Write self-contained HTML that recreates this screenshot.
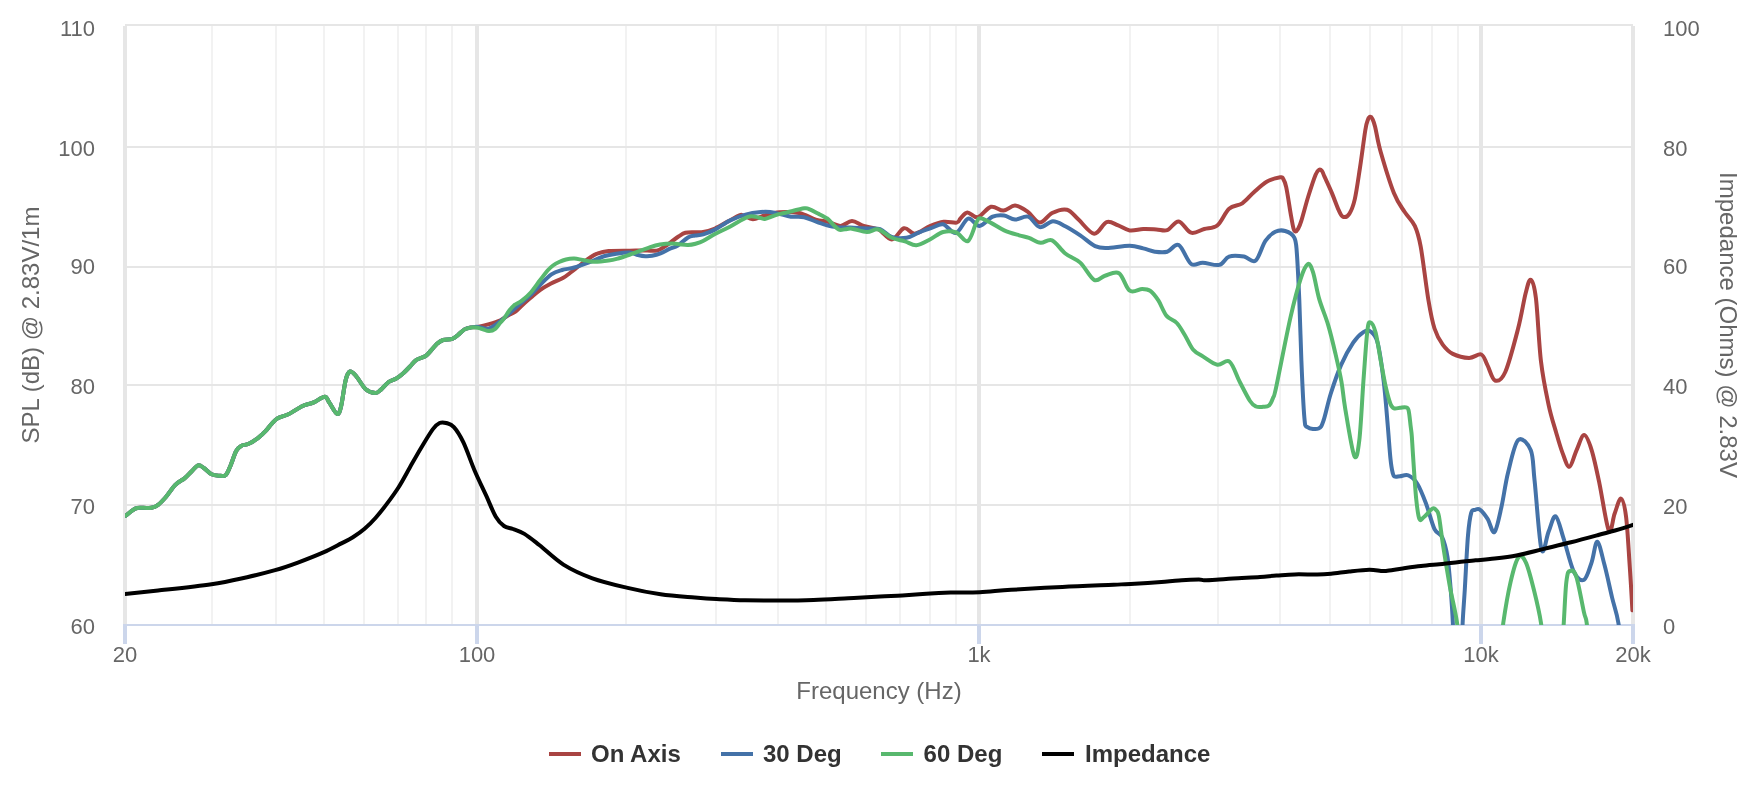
<!DOCTYPE html><html><head><meta charset="utf-8"><style>html,body{margin:0;padding:0;background:#fff;}svg{display:block;}svg{will-change:transform;}text{font-family:"Liberation Sans",sans-serif;}</style></head><body>
<svg width="1758" height="787" viewBox="0 0 1758 787">
<rect x="0" y="0" width="1758" height="787" fill="#fff"/>
<rect x="211" y="25" width="2" height="600" fill="#f2f2f2"/>
<rect x="275" y="25" width="2" height="600" fill="#f2f2f2"/>
<rect x="323" y="25" width="2" height="600" fill="#f2f2f2"/>
<rect x="363" y="25" width="2" height="600" fill="#f2f2f2"/>
<rect x="397" y="25" width="2" height="600" fill="#f2f2f2"/>
<rect x="425" y="25" width="2" height="600" fill="#f2f2f2"/>
<rect x="451" y="25" width="2" height="600" fill="#f2f2f2"/>
<rect x="625" y="25" width="2" height="600" fill="#f2f2f2"/>
<rect x="715" y="25" width="2" height="600" fill="#f2f2f2"/>
<rect x="777" y="25" width="2" height="600" fill="#f2f2f2"/>
<rect x="825" y="25" width="2" height="600" fill="#f2f2f2"/>
<rect x="865" y="25" width="2" height="600" fill="#f2f2f2"/>
<rect x="899" y="25" width="2" height="600" fill="#f2f2f2"/>
<rect x="929" y="25" width="2" height="600" fill="#f2f2f2"/>
<rect x="955" y="25" width="2" height="600" fill="#f2f2f2"/>
<rect x="1129" y="25" width="2" height="600" fill="#f2f2f2"/>
<rect x="1217" y="25" width="2" height="600" fill="#f2f2f2"/>
<rect x="1279" y="25" width="2" height="600" fill="#f2f2f2"/>
<rect x="1329" y="25" width="2" height="600" fill="#f2f2f2"/>
<rect x="1369" y="25" width="2" height="600" fill="#f2f2f2"/>
<rect x="1401" y="25" width="2" height="600" fill="#f2f2f2"/>
<rect x="1431" y="25" width="2" height="600" fill="#f2f2f2"/>
<rect x="1457" y="25" width="2" height="600" fill="#f2f2f2"/>
<rect x="125" y="24" width="1508" height="2" fill="#e6e6e6"/>
<rect x="125" y="146" width="1508" height="2" fill="#e6e6e6"/>
<rect x="125" y="266" width="1508" height="2" fill="#e6e6e6"/>
<rect x="125" y="384" width="1508" height="2" fill="#e6e6e6"/>
<rect x="125" y="504" width="1508" height="2" fill="#e6e6e6"/>
<rect x="123" y="26" width="4" height="598" fill="#e6e6e6"/>
<rect x="475" y="26" width="4" height="598" fill="#e6e6e6"/>
<rect x="977" y="26" width="4" height="598" fill="#e6e6e6"/>
<rect x="1479" y="26" width="4" height="598" fill="#e6e6e6"/>
<rect x="1631" y="26" width="4" height="598" fill="#e6e6e6"/>
<rect x="125" y="624" width="1508" height="2" fill="#ccd6eb"/>
<rect x="123" y="624" width="4" height="20" fill="#ccd6eb"/>
<rect x="475" y="624" width="4" height="20" fill="#ccd6eb"/>
<rect x="977" y="624" width="4" height="20" fill="#ccd6eb"/>
<rect x="1479" y="624" width="4" height="20" fill="#ccd6eb"/>
<rect x="1631" y="624" width="4" height="20" fill="#ccd6eb"/>
<text x="125" y="662" font-size="22" fill="#666" text-anchor="middle">20</text>
<text x="477" y="662" font-size="22" fill="#666" text-anchor="middle">100</text>
<text x="979" y="662" font-size="22" fill="#666" text-anchor="middle">1k</text>
<text x="1481" y="662" font-size="22" fill="#666" text-anchor="middle">10k</text>
<text x="1633" y="662" font-size="22" fill="#666" text-anchor="middle">20k</text>
<text x="95" y="36.0" font-size="22" fill="#666" text-anchor="end">110</text>
<text x="95" y="156.0" font-size="22" fill="#666" text-anchor="end">100</text>
<text x="95" y="274.0" font-size="22" fill="#666" text-anchor="end">90</text>
<text x="95" y="394.0" font-size="22" fill="#666" text-anchor="end">80</text>
<text x="95" y="514.0" font-size="22" fill="#666" text-anchor="end">70</text>
<text x="95" y="634.0" font-size="22" fill="#666" text-anchor="end">60</text>
<text x="1663" y="36.0" font-size="22" fill="#666" text-anchor="start">100</text>
<text x="1663" y="156.0" font-size="22" fill="#666" text-anchor="start">80</text>
<text x="1663" y="274.0" font-size="22" fill="#666" text-anchor="start">60</text>
<text x="1663" y="394.0" font-size="22" fill="#666" text-anchor="start">40</text>
<text x="1663" y="514.0" font-size="22" fill="#666" text-anchor="start">20</text>
<text x="1663" y="634.0" font-size="22" fill="#666" text-anchor="start">0</text>
<text x="879" y="699" font-size="24" fill="#666" text-anchor="middle">Frequency (Hz)</text>
<text transform="translate(38.5 325) rotate(-90)" font-size="24" fill="#666" text-anchor="middle">SPL (dB) @ 2.83V/1m</text>
<text transform="translate(1720 325) rotate(90)" font-size="24" fill="#666" text-anchor="middle">Impedance (Ohms) @ 2.83V</text>
<defs><clipPath id="pc"><rect x="125" y="25" width="1508" height="600"/></clipPath></defs>
<g clip-path="url(#pc)" fill="none" stroke-width="4" stroke-linejoin="round" stroke-linecap="round">
<path d="M125.7,515.7 C127.3,514.5 132.3,509.9 135.2,508.6 C138.1,507.3 140.2,507.9 142.9,507.8 C145.6,507.7 148.9,508.3 151.4,507.8 C153.9,507.3 155.7,506.6 158.1,504.8 C160.5,503.0 162.8,500.5 165.7,497.2 C168.6,493.9 172.1,488.0 175.3,484.8 C178.5,481.6 182.1,480.3 184.8,478.1 C187.5,475.9 189.3,473.6 191.5,471.5 C193.7,469.4 196.0,466.0 198.1,465.4 C200.2,464.8 201.6,466.5 203.8,468.0 C206.0,469.5 208.9,473.0 211.5,474.3 C214.1,475.6 216.7,475.6 219.1,475.7 C221.5,475.8 223.9,476.6 225.8,474.9 C227.7,473.2 228.8,469.7 230.5,465.7 C232.2,461.7 234.4,454.3 236.2,451.0 C238.0,447.7 239.0,447.1 241.1,445.9 C243.2,444.7 245.9,445.1 248.7,443.8 C251.5,442.5 255.1,440.2 257.9,438.1 C260.7,436.0 263.2,433.6 265.5,431.2 C267.8,428.8 269.6,425.9 271.6,423.8 C273.6,421.7 274.9,419.9 277.7,418.3 C280.5,416.7 284.3,416.3 288.4,414.3 C292.5,412.3 298.5,408.0 302.1,406.2 C305.7,404.4 307.8,404.4 309.8,403.7 C311.8,403.0 311.8,403.3 314.3,402.2 C316.8,401.1 322.3,396.7 324.8,396.8 C327.3,396.9 327.4,400.0 329.5,402.9 C331.6,405.8 335.2,413.3 337.1,413.9 C339.0,414.5 339.6,412.3 341.0,406.7 C342.4,401.1 344.2,385.9 345.7,380.0 C347.2,374.1 348.4,372.1 350.1,371.5 C351.9,370.9 353.6,373.2 356.2,376.2 C358.8,379.1 362.5,386.4 365.7,389.2 C368.9,392.0 372.8,392.9 375.3,393.0 C377.9,393.1 378.8,391.4 381.0,389.6 C383.2,387.8 386.1,383.9 388.6,382.0 C391.2,380.1 394.0,379.8 396.3,378.5 C398.6,377.2 400.1,376.0 402.4,374.0 C404.7,372.0 407.7,368.9 410.0,366.5 C412.3,364.1 413.8,361.6 416.4,359.8 C419.0,358.1 423.2,357.6 425.6,356.0 C428.0,354.4 429.1,352.5 431.0,350.5 C432.9,348.5 435.0,345.6 437.0,343.8 C439.0,342.1 440.6,340.8 443.1,340.0 C445.7,339.2 449.8,339.6 452.3,338.8 C454.8,338.0 456.0,336.6 458.0,335.0 C460.0,333.4 462.3,330.7 464.5,329.4 C466.7,328.1 469.2,327.8 471.4,327.4 C473.6,327.0 474.7,327.4 477.6,326.9 C480.6,326.3 485.3,325.2 489.1,324.1 C492.9,323.0 497.4,321.6 500.5,320.2 C503.6,318.8 505.4,317.0 508.0,315.5 C510.6,314.0 513.3,313.1 515.8,311.3 C518.3,309.5 520.5,306.8 523.0,304.5 C525.5,302.2 528.2,299.9 531.0,297.5 C533.8,295.1 536.7,292.3 540.0,290.0 C543.3,287.7 547.2,285.5 551.0,283.5 C554.8,281.5 559.4,280.1 562.9,278.1 C566.4,276.1 568.8,273.9 572.0,271.5 C575.2,269.1 579.1,265.9 582.0,263.6 C584.9,261.4 587.0,259.6 589.5,258.0 C592.0,256.4 594.0,254.8 597.2,253.7 C600.4,252.5 603.1,251.6 608.6,251.1 C614.1,250.6 624.4,250.8 630.0,250.7 C635.6,250.6 637.5,250.4 642.0,250.4 C646.5,250.4 653.0,251.2 656.7,250.6 C660.4,250.0 661.6,248.4 664.0,247.0 C666.4,245.6 668.8,243.7 671.2,241.9 C673.6,240.2 676.1,238.0 678.5,236.5 C680.9,235.0 682.8,233.5 685.4,232.8 C688.0,232.1 691.0,232.3 694.0,232.2 C697.0,232.1 699.7,232.6 703.2,232.0 C706.7,231.4 710.9,230.2 715.0,228.5 C719.1,226.8 723.6,223.8 727.7,221.6 C731.8,219.4 736.8,216.3 739.4,215.3 C742.0,214.3 741.2,214.8 743.5,215.5 C745.8,216.2 749.4,219.2 752.9,219.2 C756.4,219.2 760.1,216.7 764.5,215.5 C768.9,214.3 773.6,212.6 779.4,212.2 C785.2,211.8 793.2,211.8 799.2,213.0 C805.2,214.2 810.8,218.1 815.7,219.6 C820.7,221.1 824.8,221.0 828.9,222.1 C833.0,223.2 836.6,226.1 840.5,225.9 C844.4,225.7 848.1,221.0 852.0,221.0 C855.9,221.0 859.2,224.5 863.6,225.9 C868.0,227.3 873.8,227.2 878.5,229.5 C883.2,231.8 887.5,239.7 891.7,239.5 C896.0,239.3 900.1,229.2 904.0,228.2 C907.9,227.2 910.5,234.0 914.8,233.7 C919.1,233.4 925.1,228.2 929.9,226.2 C934.7,224.2 939.2,222.4 943.7,221.8 C948.2,221.2 953.9,223.2 956.7,222.6 C959.5,222.0 958.7,220.2 960.5,218.5 C962.3,216.8 964.5,212.6 967.4,212.4 C970.3,212.2 973.9,218.1 977.8,217.2 C981.7,216.3 986.7,207.9 991.0,206.8 C995.3,205.7 999.4,210.8 1003.4,210.6 C1007.4,210.4 1011.0,205.5 1015.0,205.6 C1019.0,205.7 1023.2,208.6 1027.3,211.4 C1031.4,214.2 1035.6,222.3 1039.7,222.6 C1043.8,222.9 1047.5,215.2 1052.1,213.0 C1056.6,210.8 1062.6,208.6 1067.0,209.7 C1071.4,210.8 1074.0,215.6 1078.5,219.6 C1083.0,223.6 1089.5,233.3 1094.2,233.7 C1098.9,234.1 1102.6,223.5 1106.6,222.1 C1110.6,220.7 1114.3,224.0 1118.2,225.4 C1122.1,226.8 1125.5,229.8 1129.7,230.4 C1133.9,231.0 1138.8,229.2 1143.2,229.0 C1147.7,228.8 1152.4,229.2 1156.4,229.4 C1160.4,229.6 1163.5,231.5 1167.2,230.2 C1170.9,228.9 1174.7,221.0 1178.7,221.4 C1182.7,221.8 1186.8,231.4 1191.1,232.7 C1195.4,234.0 1199.9,230.2 1204.3,229.0 C1208.7,227.8 1213.4,228.6 1217.5,225.2 C1221.6,221.8 1225.0,212.3 1229.1,208.7 C1233.2,205.0 1238.2,206.1 1242.3,203.3 C1246.4,200.6 1249.8,195.8 1253.9,192.2 C1258.0,188.6 1262.7,184.0 1267.1,181.5 C1271.5,179.0 1277.6,177.8 1280.3,177.3 C1283.0,176.8 1282.0,176.9 1283.0,178.5 C1284.0,180.1 1284.9,181.2 1286.2,187.1 C1287.5,193.0 1289.5,206.9 1290.7,213.8 C1291.9,220.7 1292.7,225.6 1293.5,228.5 C1294.3,231.4 1294.8,231.4 1295.5,231.5 C1296.2,231.6 1297.0,230.8 1298.0,229.0 C1299.0,227.2 1299.6,226.4 1301.3,220.9 C1303.0,215.4 1306.0,203.7 1308.4,196.0 C1310.8,188.3 1313.8,179.1 1315.6,174.7 C1317.4,170.3 1318.0,170.4 1319.1,169.8 C1320.2,169.2 1321.1,169.9 1322.0,171.0 C1322.9,172.1 1322.8,172.8 1324.4,176.4 C1326.0,180.0 1329.2,186.8 1331.6,192.4 C1334.0,198.0 1336.8,206.1 1338.7,210.2 C1340.6,214.3 1341.3,216.2 1343.1,216.8 C1344.9,217.4 1347.4,216.7 1349.3,213.8 C1351.2,210.9 1352.9,207.3 1354.7,199.6 C1356.5,191.9 1358.2,179.2 1360.0,167.6 C1361.8,156.0 1364.0,138.2 1365.3,130.2 C1366.6,122.2 1367.2,121.7 1368.0,119.5 C1368.8,117.3 1369.5,116.9 1370.3,116.8 C1371.0,116.7 1371.7,117.3 1372.5,119.0 C1373.3,120.7 1373.7,121.2 1375.1,126.7 C1376.5,132.2 1377.5,140.9 1380.7,152.0 C1383.9,163.1 1390.0,183.3 1394.0,193.3 C1398.0,203.3 1401.2,206.6 1404.7,212.0 C1408.2,217.4 1412.1,220.1 1414.8,225.9 C1417.5,231.7 1418.4,234.3 1420.7,246.7 C1423.0,259.1 1426.1,286.4 1428.4,300.0 C1430.7,313.6 1432.1,321.1 1434.5,328.5 C1436.9,335.9 1439.7,340.5 1442.7,344.7 C1445.8,348.9 1448.4,351.7 1452.8,353.9 C1457.2,356.1 1464.3,357.8 1469.1,357.9 C1473.8,358.0 1478.2,353.3 1481.3,354.5 C1484.3,355.7 1485.1,360.8 1487.4,365.1 C1489.7,369.4 1492.0,379.4 1495.0,380.5 C1498.0,381.6 1501.6,380.3 1505.4,371.7 C1509.2,363.1 1514.7,341.7 1518.1,328.6 C1521.5,315.5 1523.6,301.1 1525.7,293.0 C1527.8,284.9 1529.1,278.9 1530.8,279.8 C1532.5,280.7 1534.2,284.5 1535.9,298.1 C1537.6,311.7 1538.9,343.8 1541.0,361.6 C1543.1,379.4 1546.1,393.0 1548.6,404.8 C1551.1,416.6 1553.9,424.7 1556.2,432.7 C1558.5,440.7 1560.3,447.2 1562.5,452.9 C1564.7,458.6 1567.1,467.2 1569.4,466.8 C1571.7,466.4 1574.0,455.6 1576.5,450.3 C1579.0,445.0 1581.6,435.1 1584.1,435.1 C1586.6,435.1 1589.2,442.3 1591.7,450.3 C1594.2,458.3 1596.6,469.9 1599.4,483.3 C1602.2,496.7 1606.3,525.4 1608.8,530.5 C1611.3,535.6 1612.6,519.1 1614.6,513.8 C1616.6,508.5 1619.1,498.2 1621.0,498.6 C1622.9,499.0 1624.5,504.9 1626.0,516.3 C1627.5,527.7 1628.7,551.4 1629.8,567.1 C1630.9,582.8 1632.0,603.1 1632.4,610.3" stroke="#a94442"/>
<path d="M125.7,515.7 C127.3,514.5 132.3,509.9 135.2,508.6 C138.1,507.3 140.2,507.9 142.9,507.8 C145.6,507.7 148.9,508.3 151.4,507.8 C153.9,507.3 155.7,506.6 158.1,504.8 C160.5,503.0 162.8,500.5 165.7,497.2 C168.6,493.9 172.1,488.0 175.3,484.8 C178.5,481.6 182.1,480.3 184.8,478.1 C187.5,475.9 189.3,473.6 191.5,471.5 C193.7,469.4 196.0,466.0 198.1,465.4 C200.2,464.8 201.6,466.5 203.8,468.0 C206.0,469.5 208.9,473.0 211.5,474.3 C214.1,475.6 216.7,475.6 219.1,475.7 C221.5,475.8 223.9,476.6 225.8,474.9 C227.7,473.2 228.8,469.7 230.5,465.7 C232.2,461.7 234.4,454.3 236.2,451.0 C238.0,447.7 239.0,447.1 241.1,445.9 C243.2,444.7 245.9,445.1 248.7,443.8 C251.5,442.5 255.1,440.2 257.9,438.1 C260.7,436.0 263.2,433.6 265.5,431.2 C267.8,428.8 269.6,425.9 271.6,423.8 C273.6,421.7 274.9,419.9 277.7,418.3 C280.5,416.7 284.3,416.3 288.4,414.3 C292.5,412.3 298.5,408.0 302.1,406.2 C305.7,404.4 307.8,404.4 309.8,403.7 C311.8,403.0 311.8,403.3 314.3,402.2 C316.8,401.1 322.3,396.7 324.8,396.8 C327.3,396.9 327.4,400.0 329.5,402.9 C331.6,405.8 335.2,413.3 337.1,413.9 C339.0,414.5 339.6,412.3 341.0,406.7 C342.4,401.1 344.2,385.9 345.7,380.0 C347.2,374.1 348.4,372.1 350.1,371.5 C351.9,370.9 353.6,373.2 356.2,376.2 C358.8,379.1 362.5,386.4 365.7,389.2 C368.9,392.0 372.8,392.9 375.3,393.0 C377.9,393.1 378.8,391.4 381.0,389.6 C383.2,387.8 386.1,383.9 388.6,382.0 C391.2,380.1 394.0,379.8 396.3,378.5 C398.6,377.2 400.1,376.0 402.4,374.0 C404.7,372.0 407.7,368.9 410.0,366.5 C412.3,364.1 413.8,361.6 416.4,359.8 C419.0,358.1 423.2,357.6 425.6,356.0 C428.0,354.4 429.1,352.5 431.0,350.5 C432.9,348.5 435.0,345.6 437.0,343.8 C439.0,342.1 440.6,340.8 443.1,340.0 C445.7,339.2 449.8,339.6 452.3,338.8 C454.8,338.0 456.0,336.6 458.0,335.0 C460.0,333.4 462.3,330.7 464.5,329.4 C466.7,328.1 469.1,327.8 471.4,327.4 C473.7,327.0 475.4,326.7 478.3,326.9 C481.2,327.1 485.1,329.6 489.1,328.4 C493.1,327.2 497.9,323.0 502.3,319.5 C506.8,316.0 511.0,311.7 515.8,307.5 C520.6,303.3 527.0,298.2 531.0,294.5 C535.0,290.8 536.6,288.4 540.0,285.0 C543.4,281.6 547.7,276.8 551.4,274.3 C555.1,271.8 558.2,271.1 562.0,270.0 C565.8,268.9 569.7,268.8 574.3,267.5 C578.9,266.2 584.5,264.0 589.6,262.1 C594.7,260.2 600.3,257.4 604.8,256.0 C609.2,254.6 612.1,254.3 616.3,253.7 C620.5,253.1 626.4,252.4 630.0,252.6 C633.6,252.8 635.5,254.4 638.0,255.0 C640.5,255.6 643.0,256.1 645.3,256.2 C647.6,256.3 649.5,256.3 652.0,255.8 C654.5,255.3 657.5,254.5 660.5,253.3 C663.5,252.1 667.1,250.0 670.0,248.7 C672.9,247.4 674.8,247.4 677.8,245.5 C680.8,243.6 685.1,239.1 688.0,237.4 C690.9,235.7 692.5,236.0 695.0,235.5 C697.5,235.0 699.9,235.3 703.2,234.3 C706.5,233.3 710.5,231.9 715.0,229.6 C719.5,227.3 725.2,222.9 730.3,220.4 C735.4,217.9 740.4,216.0 745.5,214.6 C750.6,213.2 756.7,212.4 760.8,212.0 C764.9,211.6 766.9,211.7 770.0,212.0 C773.1,212.3 775.9,213.1 779.4,213.9 C782.9,214.7 786.8,216.1 790.9,216.7 C795.0,217.2 799.7,216.3 804.1,217.2 C808.5,218.1 812.6,220.5 817.3,222.1 C822.0,223.7 826.7,225.7 832.2,226.6 C837.7,227.5 844.4,227.3 850.4,227.6 C856.4,227.9 863.5,228.1 868.5,228.4 C873.5,228.7 876.2,227.8 880.1,229.2 C884.0,230.6 887.3,235.6 891.7,237.0 C896.1,238.4 902.1,238.5 906.5,237.8 C910.9,237.1 913.9,234.5 918.1,232.8 C922.3,231.2 927.4,229.3 931.6,227.9 C935.8,226.5 939.1,223.5 943.1,224.3 C947.1,225.2 951.7,233.9 955.9,233.0 C960.1,232.1 964.2,219.8 968.1,218.6 C972.0,217.4 975.4,226.2 979.5,225.9 C983.6,225.6 988.6,218.4 992.7,216.7 C996.8,215.0 1000.5,215.0 1004.2,215.5 C1007.9,216.0 1011.0,219.4 1015.0,219.6 C1019.0,219.8 1024.1,215.4 1028.2,216.7 C1032.3,217.9 1035.6,226.3 1039.7,227.1 C1043.8,227.9 1048.6,221.5 1052.9,221.3 C1057.2,221.2 1060.8,223.9 1065.3,226.2 C1069.8,228.5 1075.2,232.0 1080.2,235.3 C1085.2,238.6 1090.7,244.0 1095.1,246.1 C1099.5,248.2 1100.8,248.1 1106.6,248.0 C1112.4,247.9 1123.6,245.6 1129.7,245.7 C1135.8,245.8 1139.0,247.4 1143.2,248.4 C1147.4,249.4 1150.8,251.1 1154.8,251.7 C1158.8,252.2 1163.2,252.8 1167.2,251.7 C1171.2,250.6 1174.7,243.0 1178.7,245.1 C1182.7,247.2 1187.1,261.1 1191.1,264.0 C1195.1,266.9 1198.0,262.6 1202.7,262.7 C1207.4,262.8 1214.8,265.9 1219.2,264.9 C1223.6,263.9 1225.0,258.0 1229.1,256.6 C1233.2,255.2 1239.6,255.9 1244.0,256.6 C1248.4,257.3 1251.9,263.3 1255.5,260.7 C1259.1,258.1 1262.1,245.7 1265.4,240.9 C1268.7,236.1 1272.0,233.5 1275.3,231.8 C1278.6,230.2 1282.0,230.0 1285.2,231.0 C1288.4,232.0 1292.4,234.0 1294.3,237.6 C1296.2,241.2 1296.0,242.1 1296.8,252.5 C1297.6,262.9 1298.5,281.9 1299.3,300.0 C1300.1,318.1 1300.6,341.4 1301.4,361.0 C1302.2,380.6 1303.4,406.9 1304.4,417.9 C1305.4,428.9 1305.1,425.3 1307.5,427.1 C1309.9,428.9 1315.9,429.7 1318.6,428.5 C1321.3,427.3 1321.7,425.8 1323.7,420.0 C1325.7,414.2 1327.9,402.6 1330.8,393.5 C1333.7,384.4 1337.3,373.6 1341.0,365.1 C1344.7,356.6 1349.5,348.2 1353.2,342.7 C1356.9,337.2 1360.5,334.0 1363.4,332.1 C1366.3,330.2 1368.1,329.7 1370.5,331.5 C1372.9,333.3 1375.4,334.4 1377.6,342.7 C1379.8,351.0 1382.0,367.4 1383.7,381.3 C1385.4,395.2 1386.7,413.2 1387.8,426.1 C1388.9,439.1 1389.7,451.4 1390.5,459.0 C1391.3,466.6 1391.8,469.1 1392.5,472.0 C1393.2,474.9 1393.2,475.8 1394.5,476.5 C1395.8,477.2 1397.7,476.4 1400.0,476.2 C1402.3,476.0 1405.7,474.2 1408.6,475.5 C1411.5,476.8 1414.4,479.1 1417.3,483.7 C1420.2,488.3 1423.0,495.6 1425.9,503.2 C1428.8,510.8 1431.8,523.5 1434.5,529.1 C1437.2,534.7 1439.9,532.3 1442.1,537.0 C1444.3,541.7 1446.1,548.4 1447.5,557.1 C1448.9,565.9 1449.8,578.4 1450.7,589.5 C1451.6,600.6 1452.4,612.2 1452.9,624.0 C1453.5,635.8 1452.6,654.0 1454.0,660.0 C1455.4,666.0 1460.1,666.0 1461.5,660.0 C1462.9,654.0 1462.0,635.8 1462.6,624.0 C1463.1,612.2 1463.9,604.2 1464.8,589.5 C1465.7,574.8 1466.9,548.3 1468.0,535.5 C1469.1,522.7 1470.0,517.1 1471.2,512.9 C1472.4,508.6 1473.5,510.6 1475.0,510.0 C1476.5,509.4 1477.8,508.1 1479.9,509.6 C1482.0,511.1 1485.2,515.2 1487.6,518.9 C1490.0,522.6 1492.2,534.1 1494.5,532.0 C1496.8,529.9 1499.4,516.0 1501.6,506.2 C1503.8,496.4 1505.2,484.2 1507.9,473.2 C1510.7,462.2 1514.3,444.0 1518.1,440.2 C1521.9,436.4 1528.0,443.5 1530.8,450.3 C1533.5,457.1 1532.8,464.2 1534.6,480.8 C1536.4,497.4 1539.2,541.1 1541.5,549.6 C1543.8,558.1 1546.2,537.2 1548.6,531.6 C1551.0,526.0 1553.2,515.0 1555.7,516.3 C1558.2,517.6 1560.8,529.9 1563.8,539.2 C1566.8,548.5 1570.6,565.4 1574.0,572.2 C1577.4,579.0 1581.1,581.5 1584.1,579.8 C1587.0,578.1 1589.5,568.5 1591.7,562.1 C1593.9,555.8 1595.2,541.3 1597.3,541.7 C1599.4,542.1 1601.9,555.3 1604.4,564.6 C1606.9,573.9 1609.8,587.9 1612.1,597.6 C1614.4,607.3 1616.8,612.6 1618.4,623.0 C1620.1,633.4 1621.4,653.8 1622.0,660.0" stroke="#4472a8"/>
<path d="M125.7,515.7 C127.3,514.5 132.3,509.9 135.2,508.6 C138.1,507.3 140.2,507.9 142.9,507.8 C145.6,507.7 148.9,508.3 151.4,507.8 C153.9,507.3 155.7,506.6 158.1,504.8 C160.5,503.0 162.8,500.5 165.7,497.2 C168.6,493.9 172.1,488.0 175.3,484.8 C178.5,481.6 182.1,480.3 184.8,478.1 C187.5,475.9 189.3,473.6 191.5,471.5 C193.7,469.4 196.0,466.0 198.1,465.4 C200.2,464.8 201.6,466.5 203.8,468.0 C206.0,469.5 208.9,473.0 211.5,474.3 C214.1,475.6 216.7,475.6 219.1,475.7 C221.5,475.8 223.9,476.6 225.8,474.9 C227.7,473.2 228.8,469.7 230.5,465.7 C232.2,461.7 234.4,454.3 236.2,451.0 C238.0,447.7 239.0,447.1 241.1,445.9 C243.2,444.7 245.9,445.1 248.7,443.8 C251.5,442.5 255.1,440.2 257.9,438.1 C260.7,436.0 263.2,433.6 265.5,431.2 C267.8,428.8 269.6,425.9 271.6,423.8 C273.6,421.7 274.9,419.9 277.7,418.3 C280.5,416.7 284.3,416.3 288.4,414.3 C292.5,412.3 298.5,408.0 302.1,406.2 C305.7,404.4 307.8,404.4 309.8,403.7 C311.8,403.0 311.8,403.3 314.3,402.2 C316.8,401.1 322.3,396.7 324.8,396.8 C327.3,396.9 327.4,400.0 329.5,402.9 C331.6,405.8 335.2,413.3 337.1,413.9 C339.0,414.5 339.6,412.3 341.0,406.7 C342.4,401.1 344.2,385.9 345.7,380.0 C347.2,374.1 348.4,372.1 350.1,371.5 C351.9,370.9 353.6,373.2 356.2,376.2 C358.8,379.1 362.5,386.4 365.7,389.2 C368.9,392.0 372.8,392.9 375.3,393.0 C377.9,393.1 378.8,391.4 381.0,389.6 C383.2,387.8 386.1,383.9 388.6,382.0 C391.2,380.1 394.0,379.8 396.3,378.5 C398.6,377.2 400.1,376.0 402.4,374.0 C404.7,372.0 407.7,368.9 410.0,366.5 C412.3,364.1 413.8,361.6 416.4,359.8 C419.0,358.1 423.2,357.6 425.6,356.0 C428.0,354.4 429.1,352.5 431.0,350.5 C432.9,348.5 435.0,345.6 437.0,343.8 C439.0,342.1 440.6,340.8 443.1,340.0 C445.7,339.2 449.8,339.6 452.3,338.8 C454.8,338.0 456.0,336.6 458.0,335.0 C460.0,333.4 462.3,330.7 464.5,329.4 C466.7,328.1 469.2,327.7 471.4,327.4 C473.6,327.1 475.7,327.4 477.6,327.7 C479.5,328.0 481.1,328.7 483.0,329.3 C484.9,329.9 487.1,331.2 489.1,331.1 C491.1,331.0 493.4,330.2 495.2,328.8 C497.0,327.4 498.5,324.8 500.0,323.0 C501.5,321.2 502.8,320.1 504.3,318.1 C505.8,316.1 507.4,313.1 509.0,311.0 C510.6,308.9 512.1,306.9 514.2,305.2 C516.4,303.5 519.1,302.8 521.9,300.6 C524.7,298.4 528.0,295.6 531.0,292.2 C534.0,288.8 537.4,283.6 540.2,280.0 C543.0,276.4 545.5,272.9 547.6,270.5 C549.7,268.1 551.1,266.9 553.0,265.5 C554.9,264.1 556.9,263.0 559.1,262.0 C561.3,261.0 563.5,260.1 566.0,259.5 C568.5,258.9 571.5,258.5 574.3,258.6 C577.1,258.7 579.5,259.4 582.7,259.9 C585.9,260.4 589.1,261.7 593.4,261.8 C597.7,261.9 604.3,261.2 608.6,260.6 C612.9,260.0 615.4,259.2 619.0,258.2 C622.6,257.2 625.0,256.3 630.0,254.5 C635.0,252.7 644.1,249.3 649.1,247.6 C654.1,245.9 656.1,245.2 660.0,244.5 C663.9,243.8 669.2,243.5 672.7,243.5 C676.2,243.5 678.5,244.2 681.0,244.5 C683.5,244.8 685.6,245.1 688.0,245.0 C690.4,244.9 693.1,244.4 695.6,243.7 C698.1,243.0 699.8,242.6 703.0,241.0 C706.2,239.4 710.5,236.5 715.0,234.1 C719.5,231.7 724.8,229.4 730.3,226.5 C735.8,223.6 743.4,218.4 748.0,216.9 C752.6,215.4 755.4,217.1 758.2,217.4 C761.0,217.7 762.0,219.2 764.8,218.9 C767.6,218.6 771.2,216.4 775.0,215.3 C778.8,214.2 782.7,213.4 787.6,212.2 C792.5,211.0 800.6,208.8 804.3,208.3 C808.0,207.8 807.4,208.4 809.7,209.3 C812.0,210.2 815.1,212.0 818.0,213.5 C820.9,215.0 825.0,217.0 827.2,218.5 C829.4,220.0 829.1,220.5 831.0,222.3 C832.9,224.1 836.4,228.3 838.7,229.5 C841.0,230.7 842.8,229.4 845.0,229.3 C847.2,229.2 848.4,228.2 852.0,228.7 C855.6,229.1 862.5,231.9 866.9,232.0 C871.3,232.1 874.4,228.5 878.5,229.5 C882.6,230.5 887.3,235.8 891.7,237.8 C896.1,239.8 900.8,240.2 904.9,241.4 C909.0,242.6 912.2,245.5 916.4,245.2 C920.6,244.9 925.4,241.7 929.9,239.5 C934.4,237.3 938.7,233.2 943.1,232.0 C947.5,230.8 952.2,231.0 956.3,232.5 C960.4,234.0 964.6,242.7 967.9,241.1 C971.2,239.5 974.1,226.7 976.2,222.9 C978.3,219.1 977.8,218.3 980.3,218.3 C982.8,218.3 987.0,220.9 991.0,222.9 C995.0,224.9 999.5,228.3 1004.2,230.4 C1008.9,232.5 1015.0,234.1 1019.1,235.3 C1023.2,236.5 1025.4,236.6 1029.0,237.8 C1032.6,239.1 1036.8,242.4 1040.6,242.8 C1044.4,243.2 1048.0,238.5 1052.1,240.3 C1056.2,242.1 1060.6,249.8 1065.3,253.5 C1070.0,257.2 1075.4,258.2 1080.2,262.6 C1085.0,267.0 1090.1,277.7 1094.2,279.9 C1098.3,282.1 1100.9,276.9 1105.0,275.8 C1109.1,274.7 1114.9,270.7 1119.0,273.2 C1123.1,275.7 1125.8,288.1 1129.7,290.7 C1133.6,293.3 1138.8,288.9 1142.2,288.9 C1145.6,288.9 1147.6,288.9 1150.3,290.9 C1153.0,292.9 1155.8,296.5 1158.5,300.7 C1161.2,304.9 1163.5,312.2 1166.6,315.9 C1169.6,319.6 1173.8,319.8 1176.8,323.0 C1179.8,326.2 1182.2,330.8 1184.9,335.2 C1187.6,339.6 1190.0,345.9 1193.0,349.5 C1196.0,353.1 1199.1,354.1 1203.2,356.6 C1207.3,359.1 1213.0,363.9 1217.4,364.7 C1221.8,365.5 1225.9,358.8 1229.6,361.7 C1233.3,364.6 1236.4,375.4 1239.8,382.0 C1243.2,388.6 1247.3,396.9 1250.0,401.0 C1252.7,405.1 1253.8,405.5 1256.0,406.5 C1258.2,407.5 1260.8,407.0 1263.0,406.8 C1265.2,406.6 1267.3,407.0 1269.0,405.5 C1270.7,404.0 1271.8,401.2 1273.0,398.0 C1274.2,394.8 1273.5,399.6 1276.4,386.1 C1279.3,372.6 1286.5,334.9 1290.6,316.9 C1294.7,298.9 1297.9,287.1 1300.8,278.3 C1303.7,269.5 1305.9,265.1 1307.9,264.1 C1309.9,263.1 1311.1,266.4 1313.0,272.2 C1314.9,277.9 1316.6,289.8 1319.1,298.6 C1321.6,307.4 1325.5,316.0 1328.2,325.1 C1330.9,334.2 1333.2,344.0 1335.4,353.5 C1337.6,363.0 1339.9,372.9 1341.5,382.0 C1343.1,391.1 1343.0,395.5 1345.1,407.8 C1347.2,420.1 1351.8,450.2 1354.2,455.6 C1356.6,461.0 1357.8,452.7 1359.3,440.3 C1360.8,427.9 1362.1,399.6 1363.4,381.3 C1364.8,363.0 1366.2,340.3 1367.4,330.5 C1368.6,320.7 1369.1,322.1 1370.5,322.4 C1371.9,322.7 1373.8,325.9 1375.6,332.5 C1377.3,339.1 1379.3,352.8 1381.0,362.0 C1382.7,371.2 1384.4,381.0 1386.0,388.0 C1387.6,395.0 1389.2,400.6 1390.5,404.0 C1391.8,407.4 1392.4,407.7 1394.0,408.3 C1395.6,408.9 1398.0,408.0 1400.0,407.8 C1402.0,407.6 1404.3,406.9 1405.7,407.3 C1407.1,407.7 1407.7,407.1 1408.5,410.0 C1409.3,412.9 1410.0,420.6 1410.5,425.0 C1411.0,429.4 1411.4,431.2 1411.8,436.2 C1412.2,441.2 1412.3,444.6 1413.0,455.0 C1413.7,465.4 1415.1,488.2 1416.2,498.9 C1417.3,509.6 1418.1,516.0 1419.4,519.0 C1420.7,522.0 1421.8,518.7 1424.0,517.0 C1426.2,515.3 1430.4,509.8 1432.4,508.6 C1434.4,507.4 1434.9,508.8 1436.0,510.0 C1437.1,511.2 1437.7,510.1 1438.9,516.1 C1440.1,522.1 1441.4,534.8 1443.2,546.3 C1445.0,557.8 1447.3,572.2 1449.6,585.2 C1451.9,598.2 1455.6,611.5 1457.2,624.0 C1458.8,636.5 1452.0,654.0 1459.0,660.0 C1466.0,666.0 1491.6,666.2 1499.0,660.0 C1506.4,653.8 1501.4,635.6 1503.3,622.7 C1505.2,609.8 1508.0,593.3 1510.5,582.4 C1513.0,571.5 1516.0,560.7 1518.5,557.3 C1521.0,553.9 1523.2,557.1 1525.7,562.1 C1528.2,567.1 1530.8,577.4 1533.3,587.5 C1535.8,597.6 1539.2,610.9 1541.0,623.0 C1542.8,635.1 1540.8,653.8 1544.0,660.0 C1547.2,666.2 1556.3,672.9 1560.0,660.0 C1563.7,647.1 1564.5,597.2 1566.3,582.4 C1568.1,567.6 1569.2,571.9 1570.9,571.0 C1572.6,570.1 1574.3,570.3 1576.5,577.3 C1578.7,584.3 1582.4,605.3 1584.1,612.9 C1585.8,620.5 1585.7,615.1 1586.7,623.0 C1587.7,630.9 1589.5,653.8 1590.0,660.0" stroke="#58b86e"/>
<path d="M125.1,594.0 C130.6,593.4 143.7,592.1 158.1,590.5 C172.5,588.9 196.7,586.4 211.5,584.2 C226.3,582.0 236.5,579.5 247.1,577.2 C257.7,574.9 266.6,572.6 275.1,570.2 C283.6,567.8 289.8,565.6 297.9,562.6 C305.9,559.6 316.1,555.6 323.4,552.4 C330.6,549.2 336.5,545.9 341.4,543.4 C346.3,540.9 349.1,539.7 352.9,537.3 C356.7,534.9 360.5,532.4 364.3,529.1 C368.1,525.8 371.9,522.0 375.7,517.7 C379.5,513.4 383.4,508.5 387.2,503.4 C391.0,498.3 394.8,493.2 398.6,487.2 C402.4,481.2 406.2,473.9 410.0,467.2 C413.8,460.5 417.7,453.5 421.5,447.2 C425.3,440.9 429.9,433.1 432.9,429.1 C435.9,425.1 437.4,424.0 439.6,423.0 C441.8,422.0 443.8,422.3 446.2,423.0 C448.6,423.7 451.0,423.9 453.9,427.1 C456.8,430.3 459.9,435.1 463.4,442.4 C466.9,449.7 471.0,462.1 474.8,471.0 C478.6,479.9 482.7,488.1 486.2,495.7 C489.7,503.3 492.8,511.7 495.8,516.7 C498.8,521.8 501.1,524.0 504.0,526.0 C506.9,528.0 509.6,527.7 513.0,529.0 C516.4,530.3 520.0,531.2 524.4,533.9 C528.8,536.6 533.1,540.2 539.6,545.3 C546.1,550.4 554.6,559.1 563.4,564.6 C572.2,570.1 581.9,574.5 592.4,578.3 C602.9,582.1 615.1,584.9 626.5,587.6 C637.9,590.3 649.2,592.6 660.6,594.3 C672.0,596.0 685.5,596.8 694.8,597.6 C704.1,598.4 707.9,598.7 716.3,599.1 C724.7,599.5 734.5,600.0 745.0,600.3 C755.5,600.5 768.1,600.6 779.5,600.6 C790.9,600.6 802.1,600.5 813.6,600.1 C825.1,599.7 837.2,598.9 848.3,598.3 C859.4,597.7 871.0,597.0 880.0,596.5 C889.0,596.0 894.6,596.0 902.3,595.5 C910.0,595.0 918.2,594.3 926.2,593.8 C934.2,593.3 941.7,592.9 950.6,592.6 C959.5,592.3 969.6,592.7 979.7,592.2 C989.8,591.7 997.4,590.7 1011.2,589.8 C1025.0,588.9 1045.3,587.8 1062.4,586.9 C1079.5,586.0 1102.2,585.2 1113.6,584.7 C1125.0,584.2 1122.1,584.4 1130.6,583.9 C1139.1,583.4 1156.3,582.4 1164.8,581.8 C1173.3,581.2 1176.1,580.6 1181.8,580.2 C1187.5,579.8 1195.2,579.6 1198.9,579.6 C1202.6,579.6 1201.2,580.2 1204.0,580.2 C1206.8,580.2 1211.2,580.0 1216.0,579.7 C1220.8,579.4 1225.7,578.9 1233.0,578.4 C1240.3,577.9 1252.8,577.4 1260.0,576.9 C1267.2,576.4 1270.6,576.0 1276.4,575.6 C1282.2,575.2 1287.8,574.6 1294.6,574.4 C1301.4,574.2 1311.2,574.6 1317.3,574.5 C1323.4,574.4 1325.7,574.2 1331.0,573.7 C1336.3,573.2 1342.8,572.2 1349.2,571.5 C1355.6,570.8 1363.9,569.8 1369.2,569.7 C1374.5,569.6 1378.2,570.7 1381.0,570.9 C1383.8,571.1 1382.4,571.3 1386.0,570.9 C1389.6,570.5 1397.0,569.2 1402.8,568.4 C1408.6,567.6 1414.9,566.7 1421.0,566.0 C1427.1,565.3 1433.1,564.8 1439.2,564.2 C1445.3,563.6 1451.3,562.9 1457.4,562.2 C1463.5,561.6 1470.2,560.8 1475.6,560.3 C1481.0,559.8 1483.2,559.8 1490.0,559.0 C1496.8,558.2 1507.5,557.2 1516.4,555.5 C1525.4,553.8 1534.6,551.1 1543.7,548.9 C1552.8,546.7 1561.9,544.6 1571.0,542.3 C1580.1,540.0 1591.0,537.0 1598.3,535.0 C1605.6,533.0 1609.2,532.2 1615.0,530.5 C1620.8,528.8 1630.0,525.8 1633.0,524.8" stroke="#000000"/>
</g>
<rect x="549" y="752" width="32" height="4" fill="#a94442"/>
<text x="591" y="762.3" font-size="24" font-weight="bold" fill="#333">On Axis</text>
<rect x="721" y="752" width="32" height="4" fill="#4472a8"/>
<text x="763" y="762.3" font-size="24" font-weight="bold" fill="#333">30 Deg</text>
<rect x="881" y="752" width="32" height="4" fill="#58b86e"/>
<text x="923.6" y="762.3" font-size="24" font-weight="bold" fill="#333">60 Deg</text>
<rect x="1042" y="752" width="32" height="4" fill="#000000"/>
<text x="1085" y="762.3" font-size="24" font-weight="bold" fill="#333">Impedance</text>
</svg></body></html>
